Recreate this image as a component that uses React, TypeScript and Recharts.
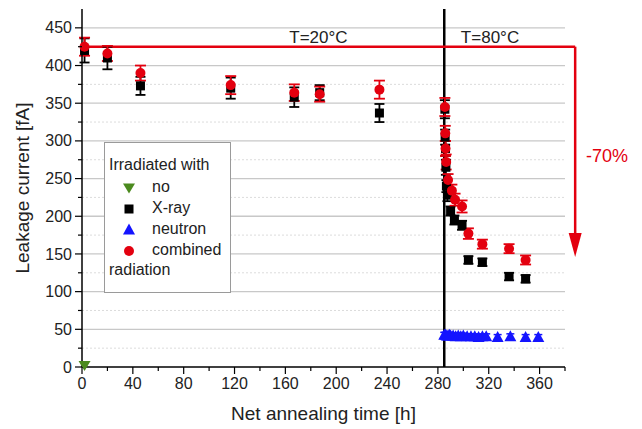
import React from 'react';
import { ScatterChart, Scatter, XAxis, YAxis, ErrorBar, ReferenceLine, ReferenceDot } from 'recharts';

// values
const noTime = [2];
const noCurrent = [2];

const xrayTime = [2, 20, 46, 117, 167, 187, 234, 285.5, 285.7, 286, 286.3, 286.7, 287.5, 290, 293, 299, 304, 315, 336, 349];
const xrayCurrent = [420, 410, 373, 370, 358, 364, 337, 342, 305, 290, 265, 240, 228, 207, 195, 188, 142, 139, 120, 117];
const xrayError = [16, 15, 12, 14, 13, 10, 12, 12, 10, 10, 10, 8, 8, 6, 6, 6, 5, 5, 5, 5];

const neutronTime = [285, 286, 287, 288, 289, 290, 292, 294, 296, 298, 300, 303, 306, 309, 312, 315, 318, 327, 337, 349, 359];
const neutronCurrent = [42, 42, 41, 41, 42, 41, 41, 40, 41, 40, 41, 40, 40, 40, 39, 40, 40, 39, 40, 39, 39];
const neutronError = [4, 4, 4, 4, 4, 4, 4, 4, 4, 4, 4, 4, 4, 4, 4, 4, 4, 4, 4, 4, 4];

const combTime = [2, 20, 46, 117, 167, 187, 234, 285.5, 285.8, 286, 286.5, 288, 291, 293.5, 299, 304, 315, 336, 349];
const combCurrent = [425, 416, 390, 374, 364, 362, 368, 345, 310, 290, 272, 248, 234, 222, 213, 177, 163, 157, 142];
const combError = [12, 10, 10, 12, 11, 10, 12, 12, 10, 10, 10, 8, 8, 8, 8, 7, 6, 6, 6];

const xTicks = [0, 20, 40, 60, 80, 100, 120, 140, 160, 180, 200, 220, 240, 260, 280, 300, 320, 340, 360, 380];
const yTicks = [0, 25, 50, 75, 100, 125, 150, 175, 200, 225, 250, 275, 300, 325, 350, 375, 400, 425, 450];
const yMajor = [50, 100, 150, 200, 250, 300, 350, 400, 450];
const yMinor = [25, 75, 125, 175, 225, 275, 325, 375, 425];

const annealStart = 285;
const dropFrom = 425;
const dropTo = 146;

const toRows = (t: number[], v: number[], e?: number[]) =>
  t.map((x, i) => ({ x, y: v[i], err: e ? e[i] : 0 }));

const noData = toRows(noTime, noCurrent);
const xrayData = toRows(xrayTime, xrayCurrent, xrayError);
const neutronData = toRows(neutronTime, neutronCurrent, neutronError);
const combData = toRows(combTime, combCurrent, combError);

const RED = '#e3000f';
const BLUE = '#1414ff';
const GREEN = '#4b8a1e';
const FONT = '"Liberation Sans", Arial, sans-serif';

const Square = (p: any) => <rect x={p.cx - 4.5} y={p.cy - 4.5} width={9} height={9} fill="#000" />;
const Dot = (p: any) => <circle cx={p.cx} cy={p.cy} r={5} fill={RED} />;
const TriUp = (p: any) => (
  <polygon points={`${p.cx},${p.cy - 6.5} ${p.cx - 6},${p.cy + 4.5} ${p.cx + 6},${p.cy + 4.5}`} fill={BLUE} />
);
const TriDown = (p: any) => (
  <polygon points={`${p.cx},${p.cy + 5.5} ${p.cx - 6},${p.cy - 4.5} ${p.cx + 6},${p.cy - 4.5}`} fill={GREEN} />
);

const YTick = (p: any) => {
  const v = p.payload.value;
  const major = v % 50 === 0;
  return (
    <g>
      <line x1={p.x} x2={p.x - (major ? 7 : 4)} y1={p.y} y2={p.y} stroke="#000" strokeWidth={1.2} />
      {major && (
        <text x={p.x - 10} y={p.y} dy="0.35em" textAnchor="end" fontSize={16} fill="#222" fontFamily={FONT}>
          {v}
        </text>
      )}
    </g>
  );
};

const XTick = (p: any) => {
  const v = p.payload.value;
  const major = v % 40 === 0;
  return (
    <g>
      <line x1={p.x} x2={p.x} y1={p.y} y2={p.y + (major ? 7 : 4)} stroke="#000" strokeWidth={1.2} />
      {major && (
        <text x={p.x} y={p.y + 22} textAnchor="middle" fontSize={16} fill="#222" fontFamily={FONT}>
          {v}
        </text>
      )}
    </g>
  );
};

const label = (txt: string, color: string, size: number) => (p: any) => (
  <text x={p.cx} y={p.cy} dy="0.35em" textAnchor="middle" fontSize={size} fill={color} fontFamily={FONT}>
    {txt}
  </text>
);

const ArrowHead = (p: any) => (
  <polygon points={`${p.cx},${p.cy} ${p.cx - 6.5},${p.cy - 24} ${p.cx + 6.5},${p.cy - 24}`} fill={RED} />
);

const legendItems = [
  { name: 'no', Shape: TriDown },
  { name: 'X-ray', Shape: Square },
  { name: 'neutron', Shape: TriUp },
  { name: 'combined', Shape: Dot },
];

export default function App() {
  return (
    <div style={{ position: 'relative', width: 642, height: 429, fontFamily: FONT, background: '#fff' }}>
      <style>{'body{margin:0}'}</style>
      <ScatterChart width={642} height={429} margin={{ top: 9, right: 77, bottom: 0, left: 0 }}>
        <XAxis
          type="number"
          dataKey="x"
          domain={[0, 380]}
          ticks={xTicks}
          tick={<XTick />}
          tickLine={false}
          tickSize={0}
          tickMargin={0}
          height={62}
          axisLine={{ stroke: '#000', strokeWidth: 1.5 }}
          interval={0}
          label={{ value: 'Net annealing time [h]', position: 'insideBottom', offset: 9, fontSize: 19, fill: '#222', fontFamily: FONT }}
        />
        <YAxis
          type="number"
          dataKey="y"
          domain={[0, 475]}
          ticks={yTicks}
          tick={<YTick />}
          tickLine={false}
          tickSize={0}
          tickMargin={0}
          width={82}
          axisLine={{ stroke: '#000', strokeWidth: 1.5 }}
          interval={0}
          label={{ value: 'Leakage current [fA]', angle: -90, position: 'insideLeft', offset: 22, fontSize: 19, fill: '#222', fontFamily: FONT, style: { textAnchor: 'middle' } }}
        />
        {yMinor.map((v) => (
          <ReferenceLine key={'m' + v} y={v} stroke="#dcdcdc" strokeDasharray="2 2" strokeWidth={1} />
        ))}
        {yMajor.map((v) => (
          <ReferenceLine key={'M' + v} y={v} stroke="#c8c8c8" strokeWidth={1.3} />
        ))}
        <ReferenceLine x={annealStart} stroke="#000" strokeWidth={2.5} />
        <ReferenceLine
          segment={[{ x: 0, y: dropFrom }, { x: 388, y: dropFrom }]}
          stroke={RED}
          strokeWidth={2.5}
          ifOverflow="visible"
        />
        <ReferenceLine
          segment={[{ x: 388, y: dropFrom }, { x: 388, y: 170 }]}
          stroke={RED}
          strokeWidth={2.5}
          ifOverflow="visible"
        />
        <ReferenceDot x={388} y={dropTo} r={0} ifOverflow="visible" shape={ArrowHead} />
        <ReferenceDot x={186} y={438} r={0} ifOverflow="visible" shape={label('T=20°C', '#222', 17)} />
        <ReferenceDot x={321} y={438} r={0} ifOverflow="visible" shape={label('T=80°C', '#222', 17)} />
        <ReferenceDot x={413} y={281} r={0} ifOverflow="visible" shape={label('-70%', RED, 18)} />

        <Scatter name="no" data={noData} shape={TriDown} isAnimationActive={false} />
        <Scatter name="X-ray" data={xrayData} shape={Square} isAnimationActive={false}>
          <ErrorBar dataKey="err" direction="y" width={5} stroke="#000" strokeWidth={1.8} />
        </Scatter>
        <Scatter name="neutron" data={neutronData} shape={TriUp} isAnimationActive={false}>
          <ErrorBar dataKey="err" direction="y" width={4} stroke={BLUE} strokeWidth={1.5} />
        </Scatter>
        <Scatter name="combined" data={combData} shape={Dot} isAnimationActive={false}>
          <ErrorBar dataKey="err" direction="y" width={5.5} stroke={RED} strokeWidth={1.8} />
        </Scatter>
      </ScatterChart>

      <div
        style={{
          position: 'absolute',
          left: 104,
          top: 142,
          width: 127,
          height: 151,
          border: '1px solid #9a9a9a',
          background: '#fff',
          boxSizing: 'border-box',
          fontSize: 16,
          color: '#222',
        }}
      >
        <div style={{ position: 'absolute', left: 4, top: 13, whiteSpace: 'nowrap' }}>Irradiated with</div>
        {legendItems.map((it, i) => (
          <div key={it.name} style={{ position: 'absolute', left: 0, top: 35 + i * 21, height: 20, width: 125 }}>
            <svg width={40} height={20} style={{ position: 'absolute', left: 4, top: 0 }}>
              <it.Shape cx={20} cy={10} />
            </svg>
            <span style={{ position: 'absolute', left: 47, top: 0, whiteSpace: 'nowrap' }}>{it.name}</span>
          </div>
        ))}
        <div style={{ position: 'absolute', left: 4, top: 118 }}>radiation</div>
      </div>
    </div>
  );
}
